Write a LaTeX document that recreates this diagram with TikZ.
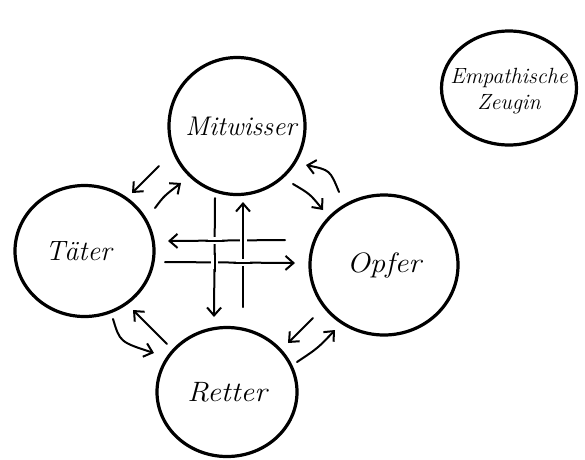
\documentclass[tikz,border=0pt]{standalone}
\usepackage{fontspec}
\usetikzlibrary{arrows.meta,shapes.geometric}
\begin{document}
\begin{tikzpicture}[x=1pt,y=-1pt,
  role/.style={draw, ellipse, line width=3.2pt, inner sep=0pt},
  lbl/.style={inner sep=0pt, font=\itshape\fontsize{28}{30}\selectfont},
  arr/.style={line width=2pt, line cap=round, -{Straight Barb[length=8pt,width=14pt,line width=2pt]}},
  plain/.style={line width=2pt, line cap=round},
  gap/.style={white, line width=7pt}
]
\useasboundingbox (0,0) rectangle (585,459);
\fill[white] (0,0) rectangle (585,459);

% role circles
\node[role, minimum width=136pt, minimum height=137pt] (mit) at (237,126) {};
\node[role, minimum width=139pt, minimum height=131pt] (tat) at (84.5,251) {};
\node[role, minimum width=148pt, minimum height=140pt] (opf) at (384,265) {};
\node[role, minimum width=140pt, minimum height=129pt] (ret) at (227,392) {};
\node[role, minimum width=135pt, minimum height=114pt] (zeu) at (509,88) {};

% labels
\node[lbl, font=\itshape\fontsize{27}{30}\selectfont] (mitL) at ([xshift=4pt]mit) {Mitwisser};
\node[lbl] (tatL) at ([xshift=-6pt]tat) {T\"ater};
\node[lbl] (opfL) at (opf) {\scalebox{1.1}[1]{Opfer}};
\node[lbl] (retL) at (ret) {\scalebox{1.08}[1]{Retter}};
\node[lbl, align=center, font=\itshape\fontsize{22}{26}\selectfont] (zeuL) at ([yshift=-3pt]zeu)
      {Empathische\\Zeugin};

% arrow end points
\coordinate (mt1) at (159,166); \coordinate (mt2) at (132,193);
\coordinate (tm1) at (155,208); \coordinate (tm2) at (181,183);
\coordinate (mo1) at (293,184); \coordinate (mo2) at (323,210);
\coordinate (om1) at (339,192); \coordinate (om2) at (306,165);
\coordinate (tr1) at (113,319); \coordinate (tr2) at (154,353);
\coordinate (rt1) at (167,344); \coordinate (rt2) at (133,310);
\coordinate (or1) at (313,318); \coordinate (or2) at (288,343);
\coordinate (ro1) at (297,362); \coordinate (ro2) at (335,330);

% outer arrows
\draw[arr] (mt1) -- (mt2);
\draw[arr] (tm1) .. controls (164,196) .. (tm2);
\draw[arr] (mo1) .. controls (310,194) .. (mo2);
\draw[arr] (om1) .. controls (330,170) .. (om2);
\draw[arr] (tr1) .. controls (120,342) .. (tr2);
\draw[arr] (rt1) -- (rt2);
\draw[arr] (or1) -- (or2);
\draw[arr] (ro1) .. controls (318,348) .. (ro2);

% central woven arrows
\coordinate (a1) at (285,240); \coordinate (a2) at (168,241);
\coordinate (b1) at (165,262); \coordinate (b2) at (295,263);
\coordinate (c1) at (215,198); \coordinate (c2) at (214,317);
\coordinate (d1) at (243,307); \coordinate (d2) at (243,202);
\draw[arr] (a1) -- (a2);
\draw[arr] (b1) -- (b2);
\draw[arr] (c1) -- (c2);
\draw[arr] (d1) -- (d2);

% crossings: over strands
\coordinate (xac) at (215,240.6);
\coordinate (xad) at (243,240.2);
\coordinate (xbc) at (214.5,262.3);
\coordinate (xbd) at (243,262.5);
\draw[gap]   ([xshift=-7pt]xac) -- ([xshift=7pt]xac);
\draw[plain] ([xshift=-9pt]xac) -- ([xshift=9pt]xac);
\draw[gap]   ([yshift=-7pt]xad) -- ([yshift=7pt]xad);
\draw[plain] ([yshift=-9pt]xad) -- ([yshift=9pt]xad);
\draw[gap]   ([yshift=-7pt]xbc) -- ([yshift=7pt]xbc);
\draw[plain] ([yshift=-9pt]xbc) -- ([yshift=9pt]xbc);
\draw[gap]   ([xshift=-7pt]xbd) -- ([xshift=7pt]xbd);
\draw[plain] ([xshift=-9pt]xbd) -- ([xshift=9pt]xbd);
\end{tikzpicture}
\end{document}
